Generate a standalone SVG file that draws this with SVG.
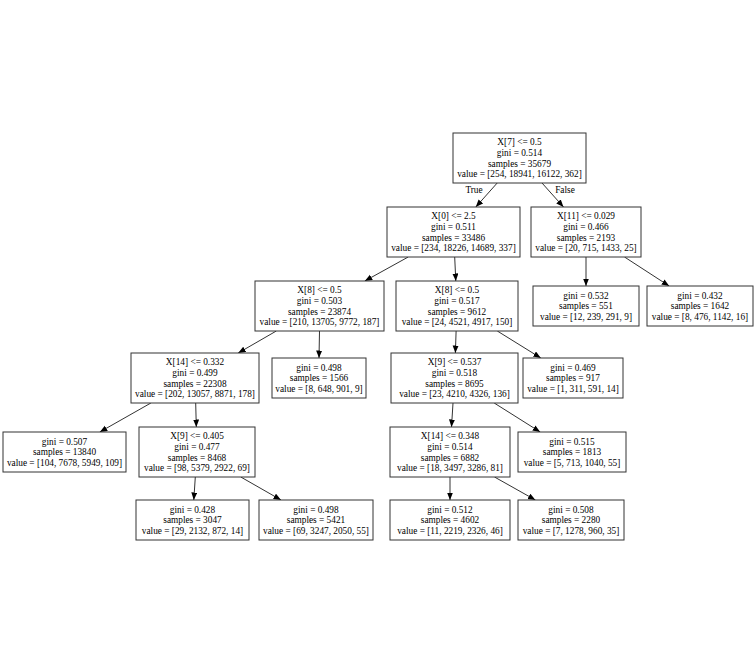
<svg xmlns="http://www.w3.org/2000/svg" width="756" height="672" viewBox="0 0 756 672">
<style>
rect.n{fill:#fff;stroke:#333;stroke-width:1}
text{font-family:"Liberation Serif","Times New Roman",serif;font-size:9.3px;text-anchor:middle;fill:#000}
.e line{stroke:#333;stroke-width:1}
</style>
<defs>
<marker id="a" markerUnits="userSpaceOnUse" markerWidth="8" markerHeight="7" refX="7.5" refY="3" orient="auto">
<path d="M0,0 L7.5,3 L0,6 z" fill="#000"/>
</marker>
</defs>
<rect width="756" height="672" fill="#fff"/>
<g class="e" id="edges">
<line x1="497.2" y1="183" x2="475.8" y2="207" marker-end="url(#a)"/>
<line x1="542" y1="183" x2="563.5" y2="207" marker-end="url(#a)"/>
<line x1="408.2" y1="257" x2="364.8" y2="281" marker-end="url(#a)"/>
<line x1="454.7" y1="257" x2="455.8" y2="281" marker-end="url(#a)"/>
<line x1="586" y1="257" x2="586" y2="286" marker-end="url(#a)"/>
<line x1="624.5" y1="257" x2="669.2" y2="286" marker-end="url(#a)"/>
<line x1="276.3" y1="331" x2="238.2" y2="353" marker-end="url(#a)"/>
<line x1="319.5" y1="331" x2="319" y2="358" marker-end="url(#a)"/>
<line x1="456.1" y1="331" x2="455.4" y2="353" marker-end="url(#a)"/>
<line x1="497.3" y1="331" x2="540.8" y2="358" marker-end="url(#a)"/>
<line x1="150.9" y1="403" x2="99.8" y2="432" marker-end="url(#a)"/>
<line x1="195.7" y1="403" x2="196.3" y2="427" marker-end="url(#a)"/>
<line x1="453" y1="403" x2="451.5" y2="427" marker-end="url(#a)"/>
<line x1="494.2" y1="403" x2="540.2" y2="432" marker-end="url(#a)"/>
<line x1="195.3" y1="477" x2="193.8" y2="500" marker-end="url(#a)"/>
<line x1="240.8" y1="477" x2="281" y2="500" marker-end="url(#a)"/>
<line x1="450" y1="477" x2="450" y2="500" marker-end="url(#a)"/>
<line x1="494.5" y1="477" x2="535.4" y2="500" marker-end="url(#a)"/>
<text x="474" y="193">True</text>
<text x="565" y="193">False</text>
</g>
<g id="n0"><rect class="n" x="453" y="133" width="133" height="50"/>
<text x="519.5" y="145.3">X[7] &lt;= 0.5</text><text x="519.5" y="155.9">gini = 0.514</text><text x="519.5" y="166.5">samples = 35679</text><text x="519.5" y="177.1">value = [254, 18941, 16122, 362]</text></g>
<g id="n1"><rect class="n" x="387" y="207" width="133" height="50"/>
<text x="453.5" y="219.3">X[0] &lt;= 2.5</text><text x="453.5" y="229.9">gini = 0.511</text><text x="453.5" y="240.5">samples = 33486</text><text x="453.5" y="251.1">value = [234, 18226, 14689, 337]</text></g>
<g id="n2"><rect class="n" x="531" y="207" width="110" height="50"/>
<text x="586" y="219.3">X[11] &lt;= 0.029</text><text x="586" y="229.9">gini = 0.466</text><text x="586" y="240.5">samples = 2193</text><text x="586" y="251.1">value = [20, 715, 1433, 25]</text></g>
<g id="n3"><rect class="n" x="255" y="281" width="129" height="50"/>
<text x="319.5" y="293.3">X[8] &lt;= 0.5</text><text x="319.5" y="303.9">gini = 0.503</text><text x="319.5" y="314.5">samples = 23874</text><text x="319.5" y="325.1">value = [210, 13705, 9772, 187]</text></g>
<g id="n4"><rect class="n" x="396" y="281" width="122" height="50"/>
<text x="457" y="293.3">X[8] &lt;= 0.5</text><text x="457" y="303.9">gini = 0.517</text><text x="457" y="314.5">samples = 9612</text><text x="457" y="325.1">value = [24, 4521, 4917, 150]</text></g>
<g id="n5"><rect class="n" x="533" y="286" width="106" height="40"/>
<text x="586" y="298.6">gini = 0.532</text><text x="586" y="309.2">samples = 551</text><text x="586" y="319.8">value = [12, 239, 291, 9]</text></g>
<g id="n6"><rect class="n" x="647" y="286" width="106" height="40"/>
<text x="700" y="298.6">gini = 0.432</text><text x="700" y="309.2">samples = 1642</text><text x="700" y="319.8">value = [8, 476, 1142, 16]</text></g>
<g id="n7"><rect class="n" x="131" y="353" width="128" height="50"/>
<text x="195" y="365.3">X[14] &lt;= 0.332</text><text x="195" y="375.9">gini = 0.499</text><text x="195" y="386.5">samples = 22308</text><text x="195" y="397.1">value = [202, 13057, 8871, 178]</text></g>
<g id="n8"><rect class="n" x="272" y="358" width="94" height="40"/>
<text x="319" y="370.6">gini = 0.498</text><text x="319" y="381.2">samples = 1566</text><text x="319" y="391.8">value = [8, 648, 901, 9]</text></g>
<g id="n9"><rect class="n" x="391" y="353" width="127" height="50"/>
<text x="454.5" y="365.3">X[9] &lt;= 0.537</text><text x="454.5" y="375.9">gini = 0.518</text><text x="454.5" y="386.5">samples = 8695</text><text x="454.5" y="397.1">value = [23, 4210, 4326, 136]</text></g>
<g id="n10"><rect class="n" x="523" y="358" width="100" height="40"/>
<text x="573" y="370.6">gini = 0.469</text><text x="573" y="381.2">samples = 917</text><text x="573" y="391.8">value = [1, 311, 591, 14]</text></g>
<g id="n11"><rect class="n" x="3" y="432" width="123" height="40"/>
<text x="64.5" y="444.6">gini = 0.507</text><text x="64.5" y="455.2">samples = 13840</text><text x="64.5" y="465.8">value = [104, 7678, 5949, 109]</text></g>
<g id="n12"><rect class="n" x="139" y="427" width="116" height="50"/>
<text x="197" y="439.3">X[9] &lt;= 0.405</text><text x="197" y="449.9">gini = 0.477</text><text x="197" y="460.5">samples = 8468</text><text x="197" y="471.1">value = [98, 5379, 2922, 69]</text></g>
<g id="n13"><rect class="n" x="390" y="427" width="120" height="50"/>
<text x="450" y="439.3">X[14] &lt;= 0.348</text><text x="450" y="449.9">gini = 0.514</text><text x="450" y="460.5">samples = 6882</text><text x="450" y="471.1">value = [18, 3497, 3286, 81]</text></g>
<g id="n14"><rect class="n" x="518" y="432" width="108" height="40"/>
<text x="572" y="444.6">gini = 0.515</text><text x="572" y="455.2">samples = 1813</text><text x="572" y="465.8">value = [5, 713, 1040, 55]</text></g>
<g id="n15"><rect class="n" x="136" y="500" width="113" height="40"/>
<text x="192.5" y="512.6">gini = 0.428</text><text x="192.5" y="523.2">samples = 3047</text><text x="192.5" y="533.8">value = [29, 2132, 872, 14]</text></g>
<g id="n16"><rect class="n" x="259" y="500" width="114" height="40"/>
<text x="316" y="512.6">gini = 0.498</text><text x="316" y="523.2">samples = 5421</text><text x="316" y="533.8">value = [69, 3247, 2050, 55]</text></g>
<g id="n17"><rect class="n" x="390" y="500" width="120" height="40"/>
<text x="450" y="512.6">gini = 0.512</text><text x="450" y="523.2">samples = 4602</text><text x="450" y="533.8">value = [11, 2219, 2326, 46]</text></g>
<g id="n18"><rect class="n" x="518" y="500" width="106" height="40"/>
<text x="571" y="512.6">gini = 0.508</text><text x="571" y="523.2">samples = 2280</text><text x="571" y="533.8">value = [7, 1278, 960, 35]</text></g>
</svg>
